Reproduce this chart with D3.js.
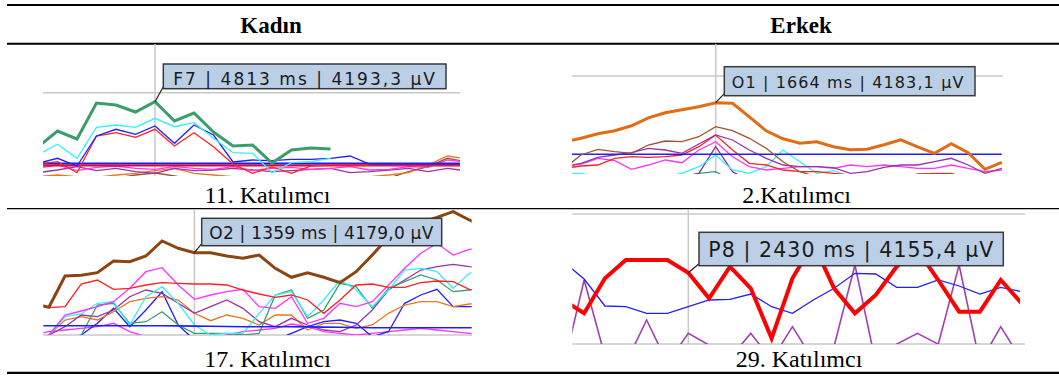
<!DOCTYPE html>
<html>
<head>
<meta charset="utf-8">
<script src="https://cdn.jsdelivr.net/npm/d3@7"></script>
<style>
  body { margin: 0; background: #fff; }
  svg { display: block; }
</style>
</head>
<body>
<svg id="chart" width="1059" height="376"></svg>
<script>
// ---- texts ----
const columnTitles = ['Kadın', 'Erkek'];
const captions = ['11. Katılımcı', '2.Katılımcı', '17. Katılımcı', '29. Katılımcı'];
const tooltipTexts = ['F7 | 4813 ms | 4193,3 µV', 'O1 | 1664 ms | 4183,1 µV', 'O2 | 1359 ms | 4179,0 µV', 'P8 | 2430 ms | 4155,4 µV'];
const cursorIndex = [6, 9, 10, 6];
const gridValues = [[4202.3], [4209.8], [4096.7], [4214.1, 4084.1]];

// ---- 11. Katılımcı (µV per sample) ----
const k11F7 = [4148, 4164, 4156, 4192, 4190, 4183, 4193.3, 4174, 4182, 4163, 4149, 4150, 4132, 4145, 4147, 4146];
const k11Cyan = [4140.3, 4150.7, 4136.7, 4167.7, 4170, 4167.7, 4176.7, 4168.3, 4172.3, 4156.7, 4142.3, 4141.7, 4122.3, 4132.3, 4133.3, 4136.7];
const k11Blue = [4131.7, 4136.7, 4129, 4159, 4165.7, 4160.7, 4169, 4151.7, 4170, 4160, 4133, 4135, 4134.3, 4135.7, 4135.7, 4136.7, 4139, 4131, 4131, 4131, 4131, 4131, 4131];
const k11Red = [4131, 4133.3, 4122.3, 4159, 4162.3, 4157.7, 4165.7, 4149, 4162.3, 4148.3, 4131, 4121.7, 4128, 4121.7, 4129, 4130, 4130, 4130, 4130, 4130, 4130, 4130, 4130];
const k11BlueFlat = [4131.5, 4131.5, 4131.5, 4131.5, 4131.5, 4131.5, 4131.5, 4131.5, 4131.5, 4131.5, 4131.5, 4131.5, 4131.5, 4131.5, 4131.5, 4131.5, 4131.5, 4131.5, 4131.5, 4131.5, 4131.5, 4131.5, 4131.5];
const k11RedFlat = [4129.5, 4129.5, 4129.5, 4129.5, 4129.5, 4129.5, 4129.5, 4129.5, 4129.5, 4129.5, 4129.5, 4129.5, 4129.5, 4129.5, 4129.5, 4129.5, 4129.5, 4129.5, 4129.5, 4129.5, 4129.5, 4129.5, 4129.5];
const k11Magenta = [4126.7, 4130, 4124.3, 4127.7, 4129, 4126.7, 4125.7, 4128.3, 4126.7, 4125.7, 4128.3, 4124.3, 4126.7, 4127.7, 4125.7, 4126.7, 4128.3, 4125, 4125.7, 4128.3, 4127.7, 4135, 4133];
const k11Purple = [4122.3, 4125, 4128.3, 4124.3, 4126.7, 4123.3, 4121.7, 4126.7, 4124.3, 4125, 4126.7, 4125, 4123.3, 4124.3, 4125.7, 4126.7, 4122.3, 4123.3, 4125, 4126.7, 4123.3, 4126.7, 4124];
const k11Orange = [4118.3, 4120, 4118.3, 4117.7, 4120, 4121.7, 4124.3, 4126.7, 4121.7, 4120, 4118.3, 4117.7, 4118.3, 4117.7, 4118.3, 4118.3, 4117.7, 4118.3, 4120, 4122.3, 4130, 4139, 4136];
const k11Brown = [4116, 4117, 4116, 4118, 4117, 4120, 4122, 4119, 4116, 4117, 4116, 4118, 4116, 4117, 4116, 4116, 4118, 4116, 4117, 4123.3, 4128.3, 4136.7, 4133];

// ---- 2.Katılımcı ----
const e2O1 = [4144, 4147.5, 4152, 4155, 4160, 4168, 4173, 4176, 4179, 4183.1, 4182.5, 4169, 4155, 4147, 4142.5, 4144, 4139, 4136, 4136.5, 4141, 4146, 4139, 4132.5, 4142, 4133, 4116.5, 4123.5];
const e2Brown = [4117.5, 4130.8, 4136.5, 4134.2, 4132.5, 4140.8, 4144.8, 4144.2, 4149.1, 4159.1, 4155.1, 4147.5, 4137.5, 4124.1, 4114.1, 4109.1, 4105.8, 4105.8, 4105.8, 4105.8, 4107.5, 4111.8, 4112.5, 4112.5, 4107.5, 4105.8, 4105.8];
const e2Purple = [4119.1, 4122.5, 4128.5, 4130.8, 4133.1, 4137.5, 4135.8, 4132.5, 4141.8, 4150.8, 4145.8, 4135.8, 4127.5, 4120.8, 4119.1, 4119.1, 4118.1, 4112.5, 4114.1, 4118.5, 4120.8, 4120.8, 4124.1, 4127.5, 4120.8, 4112.5, 4117.5];
const e2Red = [4117.5, 4119.8, 4120.8, 4127.5, 4129.1, 4128.5, 4129.1, 4130.8, 4139.1, 4150.8, 4135.8, 4122.5, 4120.8, 4115.8, 4114.1, 4114.1, 4112.5, 4110.8, 4109.1, 4109.1, 4109.1, 4109.1, 4109.1, 4109.1, 4109.1, 4109.1, 4109.1];
const e2Magenta = [4119.1, 4121.8, 4127.5, 4125.1, 4116.5, 4120.8, 4125.8, 4123.1, 4135.8, 4144.1, 4129.1, 4119.1, 4115.8, 4117.5, 4119.1, 4119.1, 4117.5, 4120.8, 4119.1, 4120.8, 4119.1, 4117.5, 4117.5, 4120.8, 4117.5, 4114.1, 4115.8];
const e2Cyan = [4112.5, 4112.5, 4109.1, 4109.1, 4109.1, 4109.1, 4109.1, 4112.5, 4119.1, 4130.8, 4115.8, 4112.5, 4119.1, 4135.8, 4124.1, 4112.5, 4115.1, 4109.1, 4109.1, 4109.1, 4109.1, 4109.1, 4109.1, 4109.1, 4109.1, 4109.1, 4109.1];
const e2Violet = [4105, 4105, 4105, 4105, 4105, 4105, 4105, 4109.1, 4112.5, 4139.1, 4114.1, 4105, 4105, 4105, 4105, 4105, 4105, 4105, 4105, 4105, 4105, 4105, 4105, 4105, 4105, 4105, 4105];
const e2Green = [4105, 4105, 4105, 4105, 4105, 4105, 4105, 4108, 4112.5, 4114.1, 4105, 4105, 4105, 4105, 4105, 4105, 4105, 4105, 4105, 4105, 4105, 4105, 4105, 4105, 4105, 4105, 4105];
const e2BlueFlat = [4131.5, 4131.5, 4131.5, 4131.5, 4131.5, 4131.5, 4131.5, 4131.5, 4131.5, 4131.5, 4131.5, 4131.5, 4131.5, 4131.5, 4131.5, 4131.5, 4131.5, 4131.5, 4131.5, 4131.5, 4131.5, 4131.5, 4131.5, 4131.5, 4131.5, 4131.5, 4131.5];

// ---- 17. Katılımcı ----
const k17O2 = [4128, 4124.4, 4155.7, 4156.4, 4159, 4170.7, 4170, 4175.7, 4190.7, 4183.4, 4179, 4179, 4175.7, 4173.4, 4176.7, 4163.4, 4154.4, 4159, 4154.4, 4149, 4160, 4176.7, 4194.4, 4201.7, 4209, 4214.4, 4220, 4211.7, 4205];
const k17Red = [4130, 4124, 4125, 4147.7, 4151.7, 4142.4, 4143.4, 4146.7, 4149, 4148.4, 4147.7, 4147.7, 4146.7, 4141.7, 4137.7, 4134.4, 4136.7, 4131.7, 4118.4, 4131.7, 4146.7, 4147.7, 4144.4, 4144.4, 4149, 4150.7, 4150, 4142.4, 4140];
const k17Magenta = [4091.7, 4096.7, 4116.7, 4120.7, 4125, 4130, 4143.4, 4160, 4164, 4146.7, 4132.4, 4136.7, 4140, 4142.4, 4125, 4123.4, 4135, 4108.4, 4113.4, 4128.4, 4125, 4130, 4146.7, 4163.4, 4178.4, 4188.4, 4176.7, 4182.4, 4185];
const k17Cyan = [4091.7, 4096.7, 4115, 4117.7, 4128.4, 4130, 4106.7, 4135, 4145, 4128.4, 4106.7, 4096.7, 4098.4, 4098.4, 4118.4, 4136.7, 4140, 4115, 4131.7, 4151.7, 4141.7, 4125, 4141.7, 4161.7, 4163.4, 4160, 4143.4, 4158.4, 4162];
const k17Green = [4091.7, 4091.7, 4091.7, 4096.7, 4126.7, 4128.4, 4108.4, 4110, 4120, 4106.7, 4098.4, 4098.4, 4098.4, 4096.7, 4098.4, 4136.7, 4141.7, 4113.4, 4121.7, 4148.4, 4145, 4123.4, 4143.4, 4150, 4156.7, 4151.7, 4140, 4141.7, 4142];
const k17Purple = [4091.7, 4096.7, 4105, 4116.7, 4115, 4121.7, 4135, 4141.7, 4138.4, 4128.4, 4118.4, 4125, 4131.7, 4123.4, 4110, 4105, 4113.4, 4106.7, 4101.7, 4100, 4106.7, 4121.7, 4141.7, 4151.7, 4161.7, 4165, 4167.4, 4165, 4164];
const k17Orange = [4091.7, 4096.7, 4111.7, 4115, 4111.7, 4120, 4130, 4133.4, 4135, 4131.7, 4118.4, 4111, 4116.7, 4113.4, 4106.7, 4116.7, 4116.7, 4101.7, 4108.4, 4108.4, 4103.4, 4106.7, 4118.4, 4126.7, 4130, 4130, 4125, 4127.7, 4129];
const k17Blue = [4091.7, 4091.7, 4091.7, 4096.7, 4108.4, 4123.4, 4105, 4121.7, 4140, 4106.7, 4091.7, 4091.7, 4091.7, 4091.7, 4091.7, 4091.7, 4098.4, 4105, 4110, 4111.7, 4108.4, 4095, 4100, 4128.4, 4136.7, 4142.4, 4125, 4125, 4126];
const k17Magenta2 = [4096.7, 4100, 4101.7, 4103.4, 4105, 4108.4, 4100, 4095, 4093.4, 4093.4, 4093.4, 4093.4, 4096.7, 4100, 4101.7, 4103.4, 4107.7, 4105, 4100, 4098.4, 4096.7, 4098.4, 4100, 4101.7, 4103.4, 4101.7, 4100, 4098.4, 4098];
const k17BlueFlat = [4106, 4106, 4106, 4106, 4106, 4106, 4106, 4106, 4106, 4105.8, 4105.6, 4105.4, 4105.2, 4105, 4105, 4105, 4105, 4104.8, 4104.6, 4104.4, 4104.2, 4104, 4104, 4104, 4104, 4104, 4104, 4104, 4104];

// ---- 29. Katılımcı ----
const e29P8 = [4128.1, 4114.8, 4149.8, 4168.1, 4168.1, 4168.1, 4155.4, 4129.8, 4161.4, 4139.8, 4089.8, 4149.8, 4184.8, 4139.8, 4114.8, 4133.1, 4161.4, 4178.1, 4148.1, 4116.4, 4116.4, 4148.1, 4124.8];
const e29Blue = [4166.4, 4149.1, 4122.1, 4121.4, 4114.8, 4114.8, 4121.4, 4128.1, 4128.8, 4134.1, 4121.4, 4114.8, 4128.1, 4139.8, 4154.8, 4154.1, 4140.8, 4140.8, 4148.1, 4142.1, 4134.1, 4140.8, 4136.4];
const e29Purple = [4060, 4148.1, 4072, 4065, 4108.1, 4065, 4094.8, 4083, 4070, 4094.8, 4068, 4101.4, 4068, 4082, 4163.1, 4065, 4084, 4094.8, 4084, 4163.1, 4065, 4101.4, 4068];

// ---- panel options built from the arrays above ----
const thin = 1.3;
const panels = [
  {
    xDomain: [0, 22], xRange: [38, 467], yDomain: [4119, 4251], yRange: [176, 44],
    clip: [43, 44, 417, 132], gridX: [43, 460], cursorTop: 44,
    box: [163.3, 64, 282.7, 24.7], text: [173.3, 85, 261.7, 17], caption: [267.5, 203.3],
    series: [
      { v: k11Brown, c: '#a0522d', w: thin }, { v: k11Orange, c: '#e8781e', w: thin },
      { v: k11Purple, c: '#9933aa', w: thin }, { v: k11Magenta, c: '#ff33ff', w: thin },
      { v: k11RedFlat, c: '#ff0000', w: 2 }, { v: k11BlueFlat, c: '#1a1aff', w: 2 },
      { v: k11Red, c: '#ff2020', w: thin }, { v: k11Blue, c: '#2020ff', w: thin },
      { v: k11Cyan, c: '#33f0ff', w: thin }, { v: k11F7, c: '#3a9e6c', w: 3 },
    ],
  },
  {
    xDomain: [0, 26], xRange: [564.2, 1001.8], yDomain: [4112.5, 4241.8], yRange: [173.3, 44],
    clip: [572, 44, 431, 130], gridX: [572, 1003], cursorTop: 44,
    box: [724.3, 66.7, 250.7, 29], text: [731.7, 88.3, 231.7, 16], caption: [796.7, 203.3],
    series: [
      { v: e2Green, c: '#3a9e6c', w: thin }, { v: e2Violet, c: '#8030a0', w: thin },
      { v: e2Cyan, c: '#33f0ff', w: thin }, { v: e2Magenta, c: '#ff33ff', w: thin },
      { v: e2Red, c: '#ff2020', w: thin }, { v: e2Purple, c: '#9933aa', w: thin },
      { v: e2BlueFlat, c: '#2020ff', w: 1.6 }, { v: e2Brown, c: '#a0522d', w: thin },
      { v: e2O1, c: '#e06c14', w: 3 },
    ],
  },
  {
    xDomain: [0, 28], xRange: [32.7, 485.5], yDomain: [4096.7, 4222.2], yRange: [335, 209.5],
    clip: [43.3, 209.5, 428.4, 125.5], gridX: [43.3, 472], cursorTop: 209.5,
    box: [201.7, 218.3, 240, 27.4], text: [209.3, 239, 224, 17], caption: [267.5, 366.7],
    series: [
      { v: k17Magenta2, c: '#ff33ff', w: thin }, { v: k17Blue, c: '#2020ff', w: thin },
      { v: k17Orange, c: '#e8781e', w: thin }, { v: k17Purple, c: '#9933aa', w: thin },
      { v: k17Green, c: '#3a9e6c', w: thin }, { v: k17Cyan, c: '#33f0ff', w: thin },
      { v: k17Magenta, c: '#ff33ff', w: thin }, { v: k17Red, c: '#ff2020', w: thin },
      { v: k17BlueFlat, c: '#2020ff', w: 1.6 }, { v: k17O2, c: '#8b4513', w: 3 },
    ],
  },
  {
    xDomain: [0, 22], xRange: [563.3, 1021.6], yDomain: [4084.1, 4214.1], yRange: [344, 214],
    clip: [572.3, 214, 447.7, 130], gridX: [572.3, 1025], cursorTop: 210,
    box: [699, 232.3, 304.3, 33.4], text: [708.3, 256.7, 285, 20.5], caption: [799, 366.7],
    series: [
      { v: e29Purple, c: '#a040b0', w: 1.6 }, { v: e29Blue, c: '#2020ff', w: thin },
      { v: e29P8, c: '#ff0000', w: 4 },
    ],
  },
];

const svg = d3.select('#chart');
svg.append('rect').attr('width', 1059).attr('height', 376).attr('fill', '#fff');

// table rules
const rules = [
  { y: 5, w: 2 }, { y: 43.7, w: 2 }, { y: 208.7, w: 1.2 }, { y: 372.8, w: 2.3 },
];
svg.selectAll('.rule')
  .data(rules)
  .join('line')
  .attr('class', 'rule')
  .attr('x1', 7).attr('x2', 1059)
  .attr('y1', (d) => d.y).attr('y2', (d) => d.y)
  .attr('stroke', '#000')
  .attr('stroke-width', (d) => d.w);

// column headers
svg.selectAll('.colTitle')
  .data(columnTitles)
  .join('text')
  .attr('class', 'colTitle')
  .attr('x', (d, i) => (i === 0 ? 271 : 801))
  .attr('y', 33.3)
  .attr('text-anchor', 'middle')
  .attr('font-family', '"Liberation Serif", "Times New Roman", serif')
  .attr('font-weight', 'bold')
  .attr('font-size', 23)
  .text((d) => d);

const drawPanel = (p, i) => {
  const x = d3.scaleLinear().domain(p.xDomain).range(p.xRange);
  const y = d3.scaleLinear().domain(p.yDomain).range(p.yRange);
  const g = svg.append('g');
  const clipId = `clip${i}`;

  g.append('clipPath').attr('id', clipId)
    .append('rect')
    .attr('x', p.clip[0]).attr('y', p.clip[1])
    .attr('width', p.clip[2]).attr('height', p.clip[3]);

  // horizontal grid
  g.selectAll('.grid')
    .data(gridValues[i])
    .join('line')
    .attr('class', 'grid')
    .attr('x1', p.gridX[0]).attr('x2', p.gridX[1])
    .attr('y1', (d) => y(d)).attr('y2', (d) => y(d))
    .attr('stroke', '#c8c8c8')
    .attr('stroke-width', 1.5);

  // cursor line
  g.append('line')
    .attr('x1', x(cursorIndex[i])).attr('x2', x(cursorIndex[i]))
    .attr('y1', p.cursorTop).attr('y2', p.yRange[0])
    .attr('stroke', '#c8c8c8')
    .attr('stroke-width', 1.5);

  const line = d3.line().x((d, k) => x(k)).y((d) => y(d));

  g.append('g')
    .attr('clip-path', `url(#${clipId})`)
    .selectAll('path')
    .data(p.series)
    .join('path')
    .attr('d', (s) => line(s.v))
    .attr('fill', 'none')
    .attr('stroke', (s) => s.c)
    .attr('stroke-width', (s) => s.w);

  // tooltip
  const main = p.series[p.series.length - 1].v;
  const px = x(cursorIndex[i]);
  const py = y(main[cursorIndex[i]]);
  g.append('line')
    .attr('x1', px).attr('y1', py)
    .attr('x2', p.box[0]).attr('y2', p.box[1] + p.box[3] - 2)
    .attr('stroke', '#222')
    .attr('stroke-width', 1.2);
  g.append('rect')
    .attr('x', p.box[0]).attr('y', p.box[1])
    .attr('width', p.box[2]).attr('height', p.box[3])
    .attr('fill', '#bacee6')
    .attr('stroke', '#3a3a3a')
    .attr('stroke-width', 1.5);
  g.append('text')
    .attr('x', p.text[0]).attr('y', p.text[1])
    .attr('textLength', p.text[2])
    .attr('font-family', '"DejaVu Sans", Verdana, sans-serif')
    .attr('font-size', p.text[3])
    .attr('fill', '#1a1a1a')
    .text(tooltipTexts[i]);

  // caption
  g.append('text')
    .attr('x', p.caption[0]).attr('y', p.caption[1])
    .attr('text-anchor', 'middle')
    .attr('font-family', '"Liberation Serif", "Times New Roman", serif')
    .attr('font-size', 24)
    .text(captions[i]);
};

panels.forEach(drawPanel);
</script>
</body>
</html>
